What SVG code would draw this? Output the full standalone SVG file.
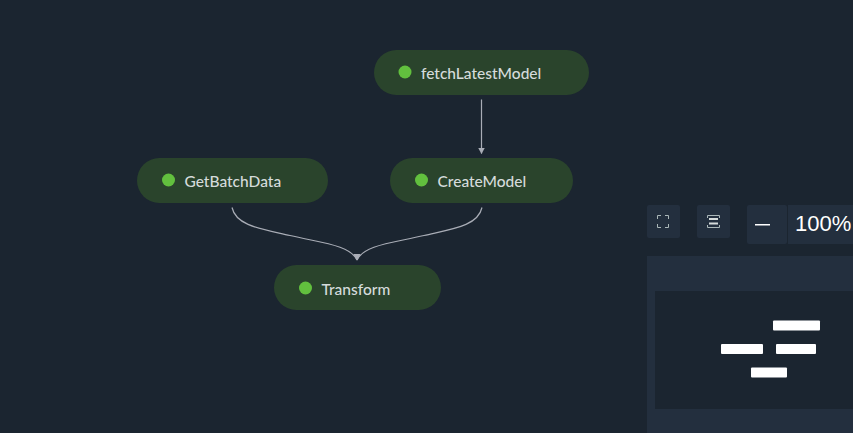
<svg xmlns="http://www.w3.org/2000/svg" width="853" height="433" viewBox="0 0 853 433">
<style>
.n{fill:#2a442c}
.d{fill:#62c03e}
.t{font-family:"Lato","Open Sans",sans-serif;font-size:15.5px;font-weight:500;fill:#d5dbdb}
.c{fill:none;stroke:#a9adb6;stroke-width:1.2}
.b{fill:#232f3e}
.m{fill:#fff}
.i{fill:none;stroke:#aab7b8;stroke-width:1}
</style>
<defs><marker id="a" markerWidth="8" markerHeight="8" refX="6" refY="3.500" orient="90" markerUnits="userSpaceOnUse"><path d="M0 0L6.500 3.500L0 7Z" fill="#a9adb6"/></marker></defs>
<rect width="853" height="433" fill="#1b2530"/>
<g id="connectors">
<path class="c" d="M481.500 99.500V153.500" marker-end="url(#a)"/>
<path class="c" d="M232 207.500C236 226 262 229 290 235.500C322 243 350 245 357 260" marker-end="url(#a)"/>
<path class="c" d="M482 207.500C478 226 452 229 424 235.500C392 243 364 245 357 260" marker-end="url(#a)"/>
</g>
<g id="fetchLatestModel"><rect class="n" x="374" y="50" width="215" height="45" rx="22.500"/><circle class="d" cx="405" cy="72" r="6.500"/><text class="t" x="421" y="79">fetchLatestModel</text></g>
<g id="GetBatchData"><rect class="n" x="137" y="158" width="191" height="45" rx="22.500"/><circle class="d" cx="168.500" cy="180" r="6.500"/><text class="t" x="184.500" y="187">GetBatchData</text></g>
<g id="CreateModel"><rect class="n" x="390" y="158" width="183" height="45" rx="22.500"/><circle class="d" cx="421.500" cy="180" r="6.500"/><text class="t" x="437.500" y="187">CreateModel</text></g>
<g id="Transform"><rect class="n" x="274" y="265" width="167" height="45" rx="22.500"/><circle class="d" cx="305.500" cy="288" r="6.500"/><text class="t" x="321.500" y="294.500">Transform</text></g>
<g id="controls">
<rect class="b" x="647" y="205" width="33" height="33" rx="2"/>
<path class="i" d="M657.500 219V215.500H661M665 215.500H668.500V219M668.500 224V227.500H665M661 227.500H657.500V224"/>
<rect class="b" x="697" y="205" width="33" height="33" rx="2"/>
<path class="i" d="M707.500 218V215.500H719.500V218M707.500 225V227.500H719.500V225"/>
<rect x="709" y="218" width="9" height="2" fill="#d5dbdb"/><rect x="709" y="222.500" width="9" height="2" fill="#d5dbdb"/>
<rect class="b" x="747" y="205" width="40" height="39" rx="2"/>
<rect x="755" y="224" width="15" height="1.500" fill="#fff"/>
<rect class="b" x="788" y="205" width="65" height="39"/>
<text x="795" y="231" font-family="Liberation Sans,Arial,sans-serif" font-size="22" fill="#fff">100%</text>
</g>
<g id="minimap">
<rect class="b" x="647" y="256" width="206" height="177"/>
<rect x="655" y="291" width="198" height="118" fill="#1b2530"/>
<rect class="m" x="773" y="320.500" width="47" height="10" rx="1"/>
<rect class="m" x="721" y="344" width="42" height="10" rx="1"/>
<rect class="m" x="776" y="344" width="40" height="10" rx="1"/>
<rect class="m" x="751" y="367.500" width="36" height="10" rx="1"/>
</g>
</svg>
